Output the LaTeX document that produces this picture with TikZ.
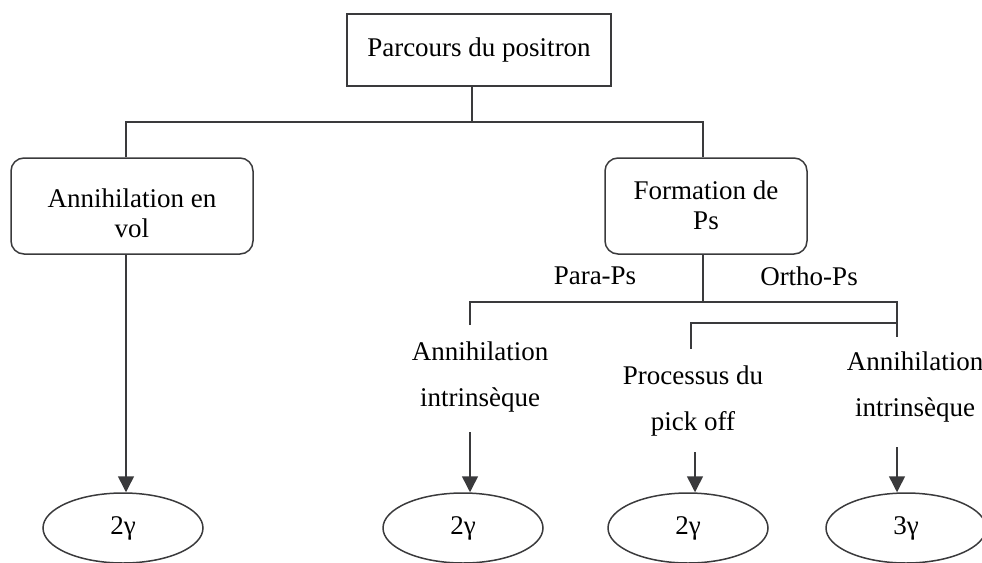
\documentclass[tikz,border=0pt]{standalone}
\usepackage{fontspec}
\setmainfont{Liberation Serif}
\usetikzlibrary{arrows.meta,shapes.geometric}
\definecolor{ln}{HTML}{3A3A3C}
\tikzset{
  every node/.style={font=\fontsize{27}{30}\selectfont, text=black},
  line/.style={draw=ln, line width=1.5pt},
  arr/.style={line, -{Triangle[length=16pt,width=16pt]}},
  sqbox/.style={line, rectangle, minimum width=264pt, minimum height=72pt, inner sep=0pt},
  rbox/.style={line, rectangle, rounded corners=13pt, inner sep=0pt, minimum height=96pt},
  btxt/.style={align=center, inner sep=0pt},
  lbl/.style={align=center, inner sep=0pt, font=\fontsize{27}{46}\selectfont},
  ell/.style={line, ellipse, minimum width=160pt, minimum height=70pt, inner sep=0pt}
}
\begin{document}
\begin{tikzpicture}[x=1pt,y=-1pt]
\useasboundingbox (0,0) rectangle (982,562);
% nodes
\node[sqbox] (top) at (479,50) {Parcours du positron};
\node[rbox, minimum width=242pt] (vol) at (132,206) {};
\node[btxt] (voltxt) at (132,213) {Annihilation en\\vol};
\node[rbox, minimum width=202pt] (ps) at (706,206) {};
\node[btxt] (pstxt) at (706,205) {Formation de\\Ps};
\node[inner sep=0pt] (para) at (595,276) {Para-Ps};
\node[inner sep=0pt] (ortho) at (809,276) {Ortho-Ps};
\node[lbl] (ai1) at (480,377) {Annihilation\\intrinsèque};
\node[lbl] (pick) at (693,401) {Processus du\\pick off};
\node[lbl] (ai2) at (915,387) {Annihilation\\intrinsèque};
\node[ell] (e1) at (123,528) {2γ};
\node[ell] (e2) at (463,528) {2γ};
\node[ell] (e3) at (688,528) {2γ};
\node[ell] (e4) at (906,528) {3γ};
% junction coordinates
\coordinate (t0) at (472,122);
\coordinate (tl) at (126,122);
\coordinate (tr) at (703,122);
\coordinate (p0) at (703,302);
\coordinate (pl) at (470,302);
\coordinate (pr) at (897,302);
\coordinate (pld) at (470,325);
\coordinate (prd) at (897,337);
\coordinate (q0) at (897,323);
\coordinate (ql) at (691,323);
\coordinate (qld) at (691,349);
\coordinate (a2) at (470,432);
\coordinate (a3) at (695,452);
\coordinate (a4) at (897,447);
% connectors
\draw[line] (top.south -| t0) -- (t0);
\draw[line] (tl |- vol.north) -- (tl) -- (tr) -- (tr |- ps.north);
\draw[arr] (tl |- vol.south) -- (tl |- e1.north);
\draw[line] (p0 |- ps.south) -- (p0);
\draw[line] (pld) -- (pl) -- (pr) -- (prd);
\draw[line] (q0) -- (ql) -- (qld);
\draw[arr] (a2) -- (a2 |- e2.north);
\draw[arr] (a3) -- (a3 |- e3.north);
\draw[arr] (a4) -- (a4 |- e4.north);
\end{tikzpicture}
\end{document}
